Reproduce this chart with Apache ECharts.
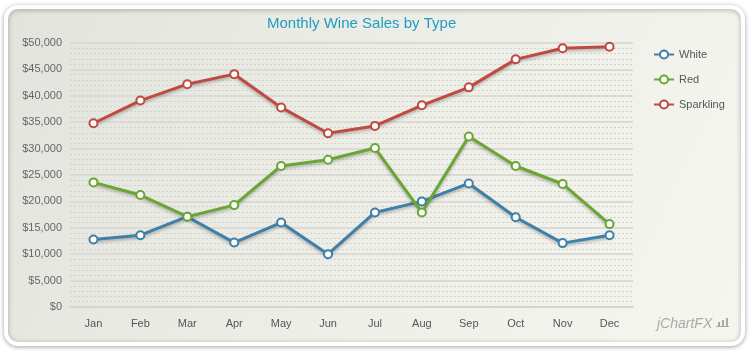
<!DOCTYPE html>
<html>
<head>
<meta charset="utf-8">
<script src="https://cdn.jsdelivr.net/npm/echarts@6/dist/echarts.min.js"></script>
<style>html,body{margin:0;padding:0;background:#fff;}#c{width:750px;height:360px;}</style>
</head>
<body>
<div id="c"></div>
<script>
const months = ['Jan','Feb','Mar','Apr','May','Jun','Jul','Aug','Sep','Oct','Nov','Dec'];
const white = [12800,13600,17100,12200,16000,10000,17900,20000,23400,17000,12100,13600];
const red = [23600,21200,17100,19300,26700,27900,30100,17900,32300,26700,23300,15700];
const sparkling = [34800,39100,42200,44100,37800,32900,34300,38200,41600,46900,49000,49300];
const seriesNames = ['White','Red','Sparkling'];
const seriesColors = ['#3f7fa8','#6aa633','#bf4a3f'];
const title = 'Monthly Wine Sales by Type';

const chart = echarts.init(document.getElementById('c'));
const data = [white, red, sparkling];
const font = 'Arial, "Liberation Sans", sans-serif';
chart.setOption({
  animation: false,
  graphic: [
    {type:'rect', z:-10, shape:{x:6,y:7,width:737,height:337,r:12},
     style:{fill:new echarts.graphic.LinearGradient(0,0,1,1,[{offset:0,color:'#e3e3de'},{offset:0.5,color:'#eeeee9'},{offset:1,color:'#f6f6f1'}]),
            stroke:'#ffffff', lineWidth:4, shadowBlur:5, shadowColor:'rgba(0,0,0,0.3)', shadowOffsetY:1}},
    {type:'text', left:657, top:317, z:5,
     style:{text:'jChartFX', fill:'#a9a9a6', font:'italic 14px ' + font}},
    {type:'group', left:716, top:318, z:5, children:[
      {type:'rect', shape:{x:0,y:8,width:13,height:1}, style:{fill:'#a9a9a6'}},
      {type:'rect', shape:{x:2,y:4,width:2,height:4}, style:{fill:'#a9a9a6'}},
      {type:'rect', shape:{x:6,y:2,width:2,height:6}, style:{fill:'#a9a9a6'}},
      {type:'rect', shape:{x:10,y:0,width:2,height:8}, style:{fill:'#a9a9a6'}}
    ]}
  ],
  title: {
    text: title, left: 262, top: 11,
    textStyle: {color:'#1f9cc0', fontSize:15, fontWeight:'normal', fontFamily: font}
  },
  legend: {
    orient:'vertical', left:648, top:44, itemWidth:20, itemHeight:10, itemGap:14,
    textStyle:{color:'#555', fontSize:11, fontFamily:font},
    data: seriesNames
  },
  grid: {left:70, right:117, top:43, bottom:53},
  xAxis: {
    type:'category', data: months, boundaryGap:true,
    axisLine:{lineStyle:{color:'#d5d5d0', width:2}},
    axisTick:{show:false},
    axisLabel:{color:'#555', fontSize:11, fontFamily:font, margin:11}
  },
  yAxis: {
    type:'value', min:0, max:50000, interval:5000,
    axisLine:{show:false}, axisTick:{show:false},
    axisLabel:{color:'#666', fontSize:11, fontFamily:font, margin:8,
      formatter: v => '$' + v.toLocaleString('en-US')},
    splitLine:{lineStyle:{color:'#dcdad4', width:2}},
    minorTick:{show:false, splitNumber:5},
    minorSplitLine:{show:true, lineStyle:{color:'#d2d2cd', type:[2,2], width:1}}
  },
  series: seriesNames.map((n,i) => ({
    name:n, type:'line', data:data[i], symbol:'circle', symbolSize:8,
    itemStyle:{color:'#fff', borderColor:seriesColors[i], borderWidth:2},
    lineStyle:{color:seriesColors[i], width:3, shadowColor:'rgba(0,0,0,0.25)', shadowBlur:3, shadowOffsetY:2},
    emphasis:{disabled:true}
  }))
});
</script>
</body>
</html>
